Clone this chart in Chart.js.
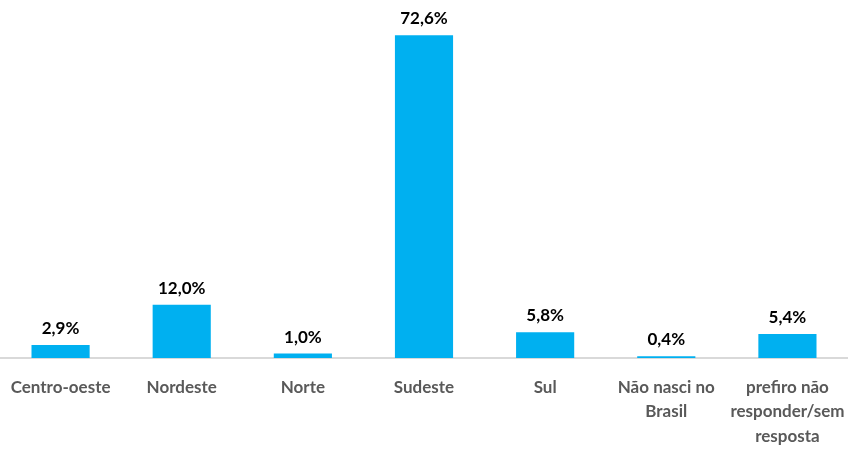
<!DOCTYPE html>
<html>
<head>
<meta charset="utf-8">
<script src="https://cdn.jsdelivr.net/npm/chart.js@4"></script>
<style>
  html, body { margin: 0; padding: 0; background: #fff; }
  #wrap { width: 848px; height: 452px; }
</style>
</head>
<body>
<div id="wrap"><canvas id="chart"></canvas></div>
<script>
const categories = [
  "Centro-oeste",
  "Nordeste",
  "Norte",
  "Sudeste",
  "Sul",
  ["Não nasci no", "Brasil"],
  ["prefiro não", "responder/sem", "resposta"],
];
const values = [2.9, 12.0, 1.0, 72.6, 5.8, 0.4, 5.4];
const valueLabels = ["2,9%", "12,0%", "1,0%", "72,6%", "5,8%", "0,4%", "5,4%"];

const FONT = "Lato, 'Open Sans', sans-serif";

// draws the percentage above each bar
const barLabels = {
  id: "barLabels",
  afterDatasetsDraw(chart) {
    const ctx = chart.ctx;
    const meta = chart.getDatasetMeta(0);
    ctx.save();
    ctx.font = `bold 17px ${FONT}`;
    ctx.fillStyle = "#000";
    ctx.textAlign = "center";
    ctx.textBaseline = "bottom";
    meta.data.forEach((bar, i) => {
      ctx.fillText(valueLabels[i], bar.x, bar.y - 8);
    });
    ctx.restore();
  },
};

new Chart(document.getElementById("chart").getContext("2d"), {
  type: "bar",
  data: {
    labels: categories,
    datasets: [
      {
        data: values,
        backgroundColor: "#00B0F0",
        barPercentage: 0.6,
        categoryPercentage: 0.8,
      },
    ],
  },
  options: {
    responsive: true,
    maintainAspectRatio: false,
    animation: false,
    layout: { padding: 0 },
    plugins: {
      legend: { display: false },
      tooltip: { enabled: false },
    },
    scales: {
      x: {
        grid: { display: false, drawTicks: false },
        border: { display: true, color: "#d9d9d9", width: 2 },
        ticks: {
          color: "#595959",
          font: { family: FONT, size: 17, weight: "bold", lineHeight: 1.45 },
          padding: 17,
          maxRotation: 0,
          autoSkip: false,
        },
        afterFit(scale) {
          // keep the plot edge to edge, and the axis band as tall as in the original
          scale.paddingLeft = 0;
          scale.paddingRight = 0;
          scale.height = 94;
        },
      },
      y: {
        display: false,
        min: 0,
        max: 80.5,
      },
    },
  },
  plugins: [barLabels],
});
</script>
</body>
</html>
